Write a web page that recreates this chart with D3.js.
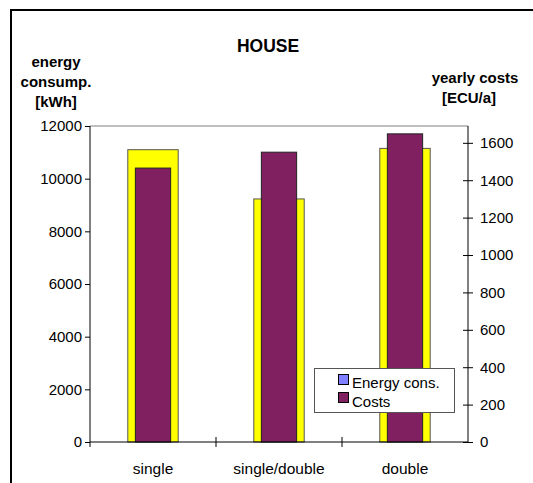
<!DOCTYPE html>
<html>
<head>
<meta charset="utf-8">
<script src="https://cdn.jsdelivr.net/npm/d3@7"></script>
<style>
html,body{margin:0;padding:0;background:#fff;}
svg{display:block;}
text{font-family:"Liberation Sans",Arial,sans-serif;fill:#000;}
</style>
</head>
<body>
<svg id="chart" width="533" height="483"></svg>
<script>
const categories = ["single", "single/double", "double"];
const energyValues = [11100, 9230, 11150];
const costValues = [1465, 1550, 1648];
const leftTicks = [0, 2000, 4000, 6000, 8000, 10000, 12000];
const rightTicks = [0, 200, 400, 600, 800, 1000, 1200, 1400, 1600];
const seriesNames = ["Energy cons.", "Costs"];

const svg = d3.select("#chart");
const pLeft = 90, pRight = 468, pTop = 126, pBottom = 442;

// outer frame
svg.append("rect").attr("x", 11).attr("y", 10).attr("width", 600).attr("height", 600)
  .attr("fill", "none").attr("stroke", "#000").attr("stroke-width", 2);

const x = d3.scaleBand().domain(categories).range([pLeft, pRight]).padding(0);
const yL = d3.scaleLinear().domain([0, 12000]).range([pBottom, pTop]);
const yR = d3.scaleLinear().domain([0, 1690]).range([pBottom, pTop]);

// plot top border
svg.append("line").attr("x1", pLeft).attr("x2", pRight).attr("y1", pTop).attr("y2", pTop)
  .attr("stroke", "#808080").attr("stroke-width", 1);

// bars
const bw = x.bandwidth();
svg.append("g").selectAll("rect").data(categories).join("rect")
  .attr("x", d => x(d) + bw / 2 - bw * 0.2)
  .attr("width", bw * 0.4)
  .attr("y", (d, i) => yL(energyValues[i]))
  .attr("height", (d, i) => pBottom - yL(energyValues[i]))
  .attr("fill", "#ffff00").attr("stroke", "#555").attr("stroke-width", 1);

svg.append("g").selectAll("rect").data(categories).join("rect")
  .attr("x", d => x(d) + bw / 2 - bw * 0.14)
  .attr("width", bw * 0.28)
  .attr("y", (d, i) => yR(costValues[i]))
  .attr("height", (d, i) => pBottom - yR(costValues[i]))
  .attr("fill", "#802060").attr("stroke", "#222").attr("stroke-width", 1);

// left axis
const gL = svg.append("g").attr("transform", `translate(${pLeft},0)`)
  .call(d3.axisLeft(yL).tickValues(leftTicks).tickSize(5).tickPadding(3).tickFormat(d3.format("d")));
gL.select(".domain").remove();
gL.append("line").attr("x1", 0).attr("x2", 0).attr("y1", pTop).attr("y2", pBottom + 5).attr("stroke", "#000");
gL.selectAll(".tick line").attr("stroke", "#000");
gL.selectAll(".tick text").attr("font-size", "15px").attr("font-family", "Liberation Sans, Arial, sans-serif").attr("fill", "#000").attr("dy", "0.32em");

// right axis
const gR = svg.append("g").attr("transform", `translate(${pRight},0)`)
  .call(d3.axisRight(yR).tickValues(rightTicks).tickSize(5).tickPadding(7).tickFormat(d3.format("d")));
gR.select(".domain").remove();
gR.append("line").attr("x1", 0).attr("x2", 0).attr("y1", pTop).attr("y2", pBottom).attr("stroke", "#000");
gR.selectAll(".tick line").attr("x1", -5).attr("stroke", "#000");
gR.selectAll(".tick text").attr("font-size", "15px").attr("font-family", "Liberation Sans, Arial, sans-serif").attr("fill", "#000").attr("dy", "0.32em");

// x axis
svg.append("line").attr("x1", pLeft).attr("x2", pRight).attr("y1", pBottom).attr("y2", pBottom).attr("stroke", "#000");
const boundaries = categories.slice(1).map(c => x(c));
svg.append("g").selectAll("line").data(boundaries).join("line")
  .attr("x1", d => d).attr("x2", d => d).attr("y1", pBottom - 5).attr("y2", pBottom + 5).attr("stroke", "#000");
svg.append("g").selectAll("text").data(categories).join("text")
  .attr("x", d => x(d) + bw / 2).attr("y", 474).attr("text-anchor", "middle")
  .attr("font-size", "15.5px").text(d => d);

// title
svg.append("text").attr("x", 268).attr("y", 52).attr("text-anchor", "middle")
  .attr("font-size", "17.5px").attr("font-weight", "bold").text("HOUSE");

// left axis title
const leftTitle = ["energy", "consump.", "[kWh]"];
svg.append("g").selectAll("text").data(leftTitle).join("text")
  .attr("x", 56).attr("y", (d, i) => 67 + i * 20).attr("text-anchor", "middle")
  .attr("font-size", "15px").attr("font-weight", "bold").text(d => d);

// right axis title
svg.append("text").attr("x", 475).attr("y", 83).attr("text-anchor", "middle")
  .attr("font-size", "15px").attr("font-weight", "bold").text("yearly costs");
svg.append("text").attr("x", 469).attr("y", 103).attr("text-anchor", "middle")
  .attr("font-size", "15px").attr("font-weight", "bold").text("[ECU/a]");

// legend
const lg = svg.append("g");
lg.append("rect").attr("x", 314.5).attr("y", 368.5).attr("width", 140).attr("height", 44)
  .attr("fill", "#fff").attr("stroke", "#555").attr("stroke-width", 1);
const legendColors = ["#8080ff", "#802060"];
lg.selectAll("rect.sw").data(seriesNames).join("rect").attr("class", "sw")
  .attr("x", 338.5).attr("y", (d, i) => 374.5 + i * 18).attr("width", 10).attr("height", 10)
  .attr("fill", (d, i) => legendColors[i]).attr("stroke", "#000");
lg.selectAll("text").data(seriesNames).join("text")
  .attr("x", 352).attr("y", (d, i) => 388 + i * 19)
  .attr("font-size", "15px").text(d => d);
</script>
</body>
</html>
